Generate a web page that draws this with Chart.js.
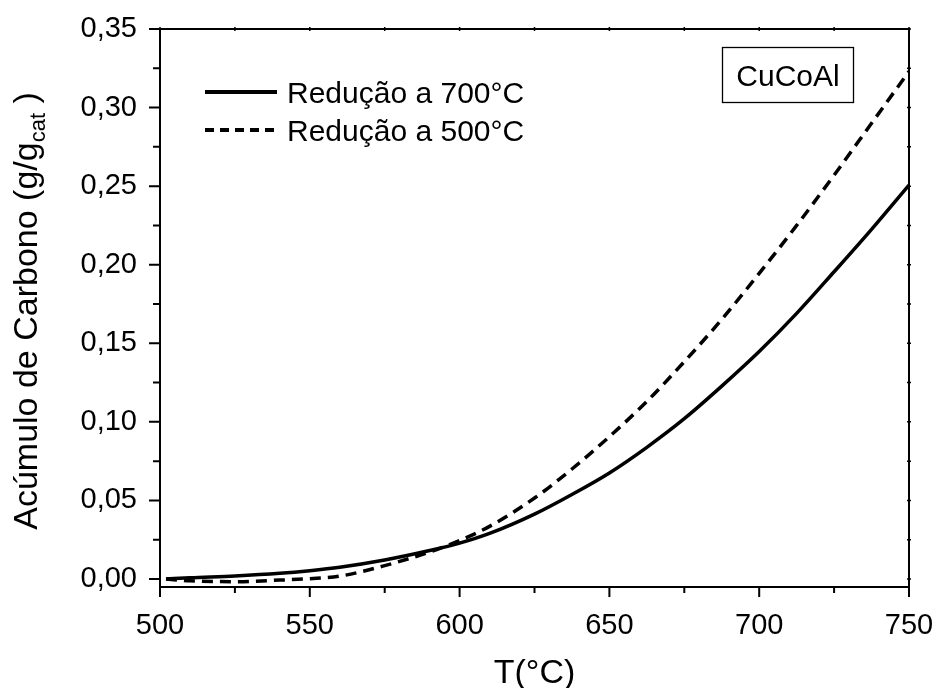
<!DOCTYPE html>
<html>
<head>
<meta charset="utf-8">
<script src="https://cdn.jsdelivr.net/npm/chart.js@4.4.1/dist/chart.umd.min.js"></script>
<style>
  html, body { margin: 0; padding: 0; background: #ffffff; }
  #wrap { width: 936px; height: 688px; }
</style>
</head>
<body>
<div id="wrap"><canvas id="c" width="936" height="688"></canvas></div>
<script>
// ---- data ----
const tempC = [502, 510, 525, 540, 550, 560, 575, 590, 600, 610, 625, 637.5, 650, 662.5, 675, 687.5, 700, 712.5, 725, 737.5, 750];
const red700 = [0.0000, 0.0008, 0.0019, 0.0036, 0.0053, 0.0075, 0.0121, 0.0181, 0.0228, 0.0290, 0.0413, 0.0538, 0.0675, 0.0838, 0.1020, 0.1227, 0.1447, 0.1690, 0.1955, 0.2225, 0.2507];
const red500 = [0.0000, -0.0012, -0.0017, -0.0007, 0.0002, 0.0018, 0.0085, 0.0172, 0.0245, 0.0335, 0.0515, 0.0700, 0.0906, 0.1130, 0.1383, 0.1652, 0.1945, 0.2250, 0.2570, 0.2900, 0.3230];
const seriesLabels = ['Redução a 700°C', 'Redução a 500°C'];
const xTicks = [500, 550, 600, 650, 700, 750];
const xMinor = [525, 575, 625, 675, 725];
const yTicks = [0.00, 0.05, 0.10, 0.15, 0.20, 0.25, 0.30, 0.35];
const yMinor = [0.025, 0.075, 0.125, 0.175, 0.225, 0.275, 0.325];
const xTitle = 'T(°C)';
const yTitleMain = 'Acúmulo de Carbono (g/g';
const yTitleSub = 'cat';
const yTitleEnd = ' )';
const boxLabel = 'CuCoAl';

const FONT = '"Liberation Sans", Arial, Helvetica, sans-serif';

const toPts = (ys) => tempC.map((x, i) => ({ x: x, y: ys[i] }));

const framePlugin = {
  id: 'frameAndDecor',
  afterDatasetsDraw(chart) {
    const ctx = chart.ctx;
    const a = chart.chartArea;
    const xs = chart.scales.x, ys = chart.scales.y;
    ctx.save();
    ctx.strokeStyle = '#000';
    ctx.lineWidth = 2;
    ctx.lineCap = 'butt';
    ctx.strokeRect(a.left, a.top, a.right - a.left, a.bottom - a.top);
    ctx.beginPath();
    yTicks.forEach(v => { const p = ys.getPixelForValue(v); ctx.moveTo(a.left, p); ctx.lineTo(a.left - 11, p); });
    yMinor.forEach(v => { const p = ys.getPixelForValue(v); ctx.moveTo(a.left, p); ctx.lineTo(a.left - 7, p); });
    xTicks.forEach(v => { const p = xs.getPixelForValue(v); ctx.moveTo(p, a.bottom); ctx.lineTo(p, a.bottom + 10); });
    xMinor.forEach(v => { const p = xs.getPixelForValue(v); ctx.moveTo(p, a.bottom); ctx.lineTo(p, a.bottom + 6); });
    ctx.stroke();
    ctx.beginPath();
    ctx.lineWidth = 1.5;
    xTicks.concat(xMinor).forEach(v => { const p = xs.getPixelForValue(v); ctx.moveTo(p, a.top - 2); ctx.lineTo(p, a.top + 2); });
    yTicks.concat(yMinor).forEach(v => { const p = ys.getPixelForValue(v); ctx.moveTo(a.right - 2, p); ctx.lineTo(a.right + 2, p); });
    ctx.stroke();
    ctx.restore();
  },
  afterDraw(chart) {
    const ctx = chart.ctx;
    const a = chart.chartArea;
    ctx.save();
    ctx.fillStyle = '#000';
    ctx.strokeStyle = '#000';
    const rows = [92, 130];
    chart.data.datasets.forEach((ds, i) => {
      const y = rows[i];
      ctx.beginPath();
      ctx.lineWidth = 4;
      ctx.setLineDash(i === 1 ? [9, 6] : []);
      ctx.moveTo(205, y);
      ctx.lineTo(277, y);
      ctx.stroke();
      ctx.setLineDash([]);
      ctx.font = '30px ' + FONT;
      ctx.textAlign = 'left';
      ctx.textBaseline = 'alphabetic';
      ctx.fillText(ds.label, 287, y + 11);
    });
    ctx.lineWidth = 1.3;
    ctx.strokeRect(722.5, 47.5, 131, 55);
    ctx.font = '30px ' + FONT;
    ctx.textAlign = 'center';
    ctx.textBaseline = 'alphabetic';
    ctx.fillText(boxLabel, 788, 86);
    ctx.font = '34px ' + FONT;
    ctx.fillText(xTitle, (a.left + a.right) / 2, 683);
    ctx.translate(37, 311);
    ctx.rotate(-Math.PI / 2);
    ctx.textAlign = 'left';
    ctx.font = '34px ' + FONT;
    const w1 = ctx.measureText(yTitleMain).width;
    const w3 = ctx.measureText(yTitleEnd).width;
    ctx.font = '22px ' + FONT;
    const w2 = ctx.measureText(yTitleSub).width;
    const start = -(w1 + w2 + w3) / 2;
    ctx.font = '34px ' + FONT;
    ctx.fillText(yTitleMain, start, 0);
    ctx.font = '22px ' + FONT;
    ctx.fillText(yTitleSub, start + w1, 8);
    ctx.font = '34px ' + FONT;
    ctx.fillText(yTitleEnd, start + w1 + w2, 0);
    ctx.restore();
  }
};

new Chart(document.getElementById('c'), {
  type: 'line',
  data: {
    datasets: [
      { label: seriesLabels[0], data: toPts(red700), borderColor: '#000', borderWidth: 3.5, pointRadius: 0, fill: false, cubicInterpolationMode: 'monotone' },
      { label: seriesLabels[1], data: toPts(red500), borderColor: '#000', borderWidth: 3.5, borderDash: [11, 7], pointRadius: 0, fill: false, cubicInterpolationMode: 'monotone' }
    ]
  },
  options: {
    responsive: false,
    animation: false,
    layout: { padding: { left: 0, right: 27, top: 29, bottom: 0 } },
    plugins: { legend: { display: false }, tooltip: { enabled: false } },
    scales: {
      x: {
        type: 'linear', min: 500, max: 750,
        afterBuildTicks: (s) => { s.ticks = xTicks.map(v => ({ value: v })); },
        afterFit: (s) => { s.height = 101; s.paddingLeft = 0; s.paddingRight = 0; },
        grid: { display: false }, border: { display: false },
        ticks: { color: '#000', font: { family: FONT, size: 29 }, padding: 14, maxRotation: 0, autoSkip: false, callback: (v) => String(v) }
      },
      y: {
        type: 'linear', min: -0.0051, max: 0.35,
        afterBuildTicks: (s) => { s.ticks = yTicks.map(v => ({ value: v })); },
        afterFit: (s) => { s.width = 160; s.paddingTop = 0; s.paddingBottom = 0; },
        grid: { display: false }, border: { display: false },
        ticks: { color: '#000', font: { family: FONT, size: 29 }, padding: 15, autoSkip: false, callback: (v) => v.toFixed(2).replace('.', ',') }
      }
    }
  },
  plugins: [framePlugin]
});
</script>
</body>
</html>
